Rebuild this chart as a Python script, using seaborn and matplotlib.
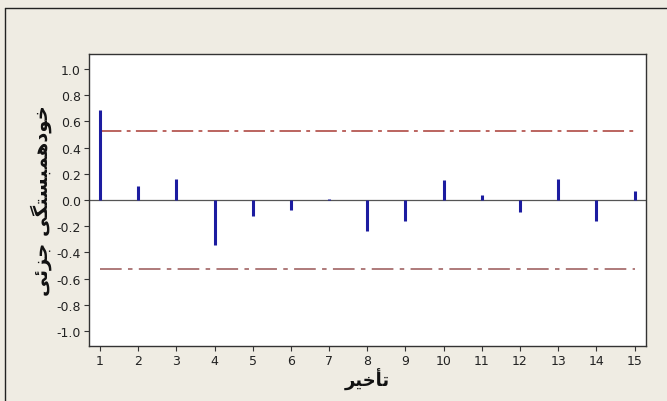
import numpy as np
import pandas as pd
import matplotlib
matplotlib.use("Agg")
import matplotlib.pyplot as plt
import seaborn as sns

# PACF-Werte
lags = list(range(1, 16))
pacf = [0.69, 0.11, 0.16, -0.34, -0.12, -0.08, 0.01, -0.24, -0.16, 0.15, 0.04, -0.09, 0.16, -0.16, 0.07]
limit_upper = 0.53
limit_lower = -0.53
y_ticks = [1.0, 0.8, 0.6, 0.4, 0.2, 0.0, -0.2, -0.4, -0.6, -0.8, -1.0]

# Persische Beschriftungen (Präsentationsformen, visuelle Reihenfolge, da matplotlib kein Shaping macht)
ylabel_fa = "\uFBFD\uFE8B\uFEB0\uFE9F \uFBFD\uFB95\uFE98\uFEB4\uFE92\uFEE4\uFEEB\uFEA9\uFEEE\uFEA7"  # خودهمبستگی جزئی
xlabel_fa = "\uFEAE\uFBFF\uFEA7\uFE84\uFE97"  # تأخیر

df = pd.DataFrame({"lag": lags, "pacf": pacf})

sns.set_style("white")
plt.rcParams['font.family'] = ['DejaVu Sans']

fig = plt.figure(figsize=(6.67, 4.02), dpi=100)
fig.patch.set_facecolor("#EFECE3")
ax = fig.add_axes([88.5 / 667, 1 - 347 / 402, (646 - 88.5) / 667, (347 - 55) / 402])
ax.set_facecolor("white")

# Rahmenlinien oben und links (wie im Screenshot)
fig.add_artist(plt.Line2D([5 / 667, 1], [1 - 8.5 / 402] * 2, color="#222222", lw=1.0, transform=fig.transFigure))
fig.add_artist(plt.Line2D([5 / 667] * 2, [0, 1 - 8.5 / 402], color="#222222", lw=1.0, transform=fig.transFigure))

# Nulllinie
ax.axhline(0, color="#555555", lw=0.9, zorder=1)

# Signifikanzgrenzen
sns.lineplot(x=[lags[0], lags[-1]], y=[limit_upper, limit_upper], ax=ax, color="#A83A34", lw=1.1,
             dashes=False, zorder=2).lines[-1].set_dashes((14, 3.5, 2.5, 3.5))
sns.lineplot(x=[lags[0], lags[-1]], y=[limit_lower, limit_lower], ax=ax, color="#A87070", lw=1.3,
             dashes=False, zorder=2).lines[-1].set_dashes((12, 3.5, 2.5, 3.5))

# Stäbe
ax.vlines(df["lag"], 0, df["pacf"], color="#1C1CA0", lw=2.2, zorder=3)

ax.set_xlim(0.7, 15.3)
ax.set_ylim(-1.115, 1.115)
ax.set_xticks(lags)
ax.set_yticks(y_ticks)
ax.set_yticklabels([f"{v:.1f}" for v in y_ticks])

for s in ax.spines.values():
    s.set_color("#333333")
    s.set_linewidth(1.0)

ax.tick_params(axis="both", which="both", direction="out", length=3.5, width=0.8,
               color="#333333", labelsize=9, labelcolor="#222222", pad=2,
               left=True, bottom=True)

ax.set_xlabel(xlabel_fa, fontsize=13, fontweight="bold", labelpad=1, color="#111111")
ax.set_ylabel(ylabel_fa, fontsize=14, fontweight="bold", labelpad=3, color="#111111")

fig.savefig("out.png", dpi=100, facecolor=fig.get_facecolor())
